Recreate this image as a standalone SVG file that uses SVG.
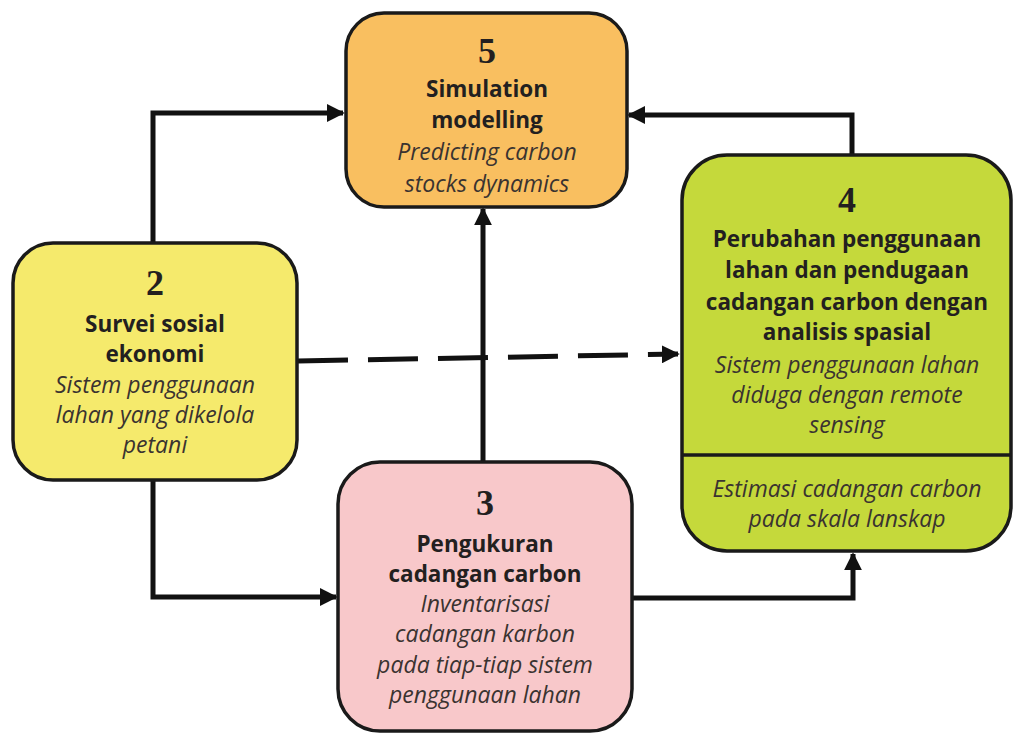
<svg xmlns="http://www.w3.org/2000/svg" width="1014" height="733" viewBox="0 0 1014 733">
  <style>
    .box { stroke: #1a1a1a; stroke-width: 3.5; }
    .num { font-family: "Liberation Serif", serif; font-weight: bold; font-size: 36px; fill: #231f20; text-anchor: middle; }
    .ttl { font-family: "Open Sans", Lato, sans-serif; font-weight: bold; font-size: 22.5px; fill: #231f20; text-anchor: middle; }
    .sub { font-family: "Open Sans", Lato, sans-serif; font-style: italic; font-size: 23px; fill: #3a3330; text-anchor: middle; }
    .link { fill: none; stroke: #111; stroke-width: 5; }
    .dash { stroke-dasharray: 50 20; }
  </style>
  <defs>
    <marker id="arrow" viewBox="0 0 10 10" refX="9" refY="5" markerWidth="3.6" markerHeight="3.6" markerUnits="strokeWidth" orient="auto">
      <path d="M0,0 L10,5 L0,10 z" fill="#111"/>
    </marker>
  </defs>
  <rect width="1014" height="733" fill="#ffffff"/>

  <!-- connectors -->
  <g id="connectors">
    <path class="link" d="M153,243 V113 H343" marker-end="url(#arrow)"/>
    <path class="link" d="M852,155 V115 H629" marker-end="url(#arrow)"/>
    <path class="link" d="M483,462 V209" marker-end="url(#arrow)"/>
    <path class="link" d="M153,480 V597 H336" marker-end="url(#arrow)"/>
    <path class="link" d="M632,598 H853 V554" marker-end="url(#arrow)"/>
    <path class="link dash" d="M298,361 L678,354" marker-end="url(#arrow)"/>
  </g>

  <!-- node 5: simulation modelling -->
  <g id="node5">
    <rect class="box" x="346" y="13" width="281" height="194" rx="38" fill="#f9bf60"/>
    <text class="num" x="487" y="63">5</text>
    <text class="ttl" x="487" y="97">Simulation</text>
    <text class="ttl" x="487" y="128">modelling</text>
    <text class="sub" x="487" y="160">Predicting carbon</text>
    <text class="sub" x="487" y="192">stocks dynamics</text>
  </g>

  <!-- node 2: socio-economic survey -->
  <g id="node2">
    <rect class="box" x="13" y="243" width="284" height="237" rx="40" fill="#f5ea6c"/>
    <text class="num" x="155" y="295">2</text>
    <text class="ttl" x="155" y="332">Survei sosial</text>
    <text class="ttl" x="155" y="362">ekonomi</text>
    <text class="sub" x="155" y="393">Sistem penggunaan</text>
    <text class="sub" x="155" y="423">lahan yang dikelola</text>
    <text class="sub" x="155" y="453">petani</text>
  </g>

  <!-- node 4: land use change and spatial analysis -->
  <g id="node4">
    <rect class="box" x="682" y="155" width="329" height="396" rx="45" fill="#c5d93b"/>
    <line x1="682" y1="455" x2="1011" y2="455" stroke="#1a1a1a" stroke-width="3.5"/>
    <text class="num" x="847" y="212">4</text>
    <text class="ttl" x="847" y="247">Perubahan penggunaan</text>
    <text class="ttl" x="847" y="278">lahan dan pendugaan</text>
    <text class="ttl" x="847" y="310">cadangan carbon dengan</text>
    <text class="ttl" x="847" y="340">analisis spasial</text>
    <text class="sub" x="847" y="373">Sistem penggunaan lahan</text>
    <text class="sub" x="847" y="403">diduga dengan remote</text>
    <text class="sub" x="847" y="433">sensing</text>
    <text class="sub" x="847" y="497">Estimasi cadangan carbon</text>
    <text class="sub" x="847" y="527">pada skala lanskap</text>
  </g>

  <!-- node 3: carbon stock measurement -->
  <g id="node3">
    <rect class="box" x="338" y="462" width="294" height="269" rx="42" fill="#f8c8ca"/>
    <text class="num" x="485" y="515">3</text>
    <text class="ttl" x="485" y="552">Pengukuran</text>
    <text class="ttl" x="485" y="582">cadangan carbon</text>
    <text class="sub" x="485" y="612">Inventarisasi</text>
    <text class="sub" x="485" y="642">cadangan karbon</text>
    <text class="sub" x="485" y="673">pada tiap-tiap sistem</text>
    <text class="sub" x="485" y="703">penggunaan lahan</text>
  </g>
</svg>
